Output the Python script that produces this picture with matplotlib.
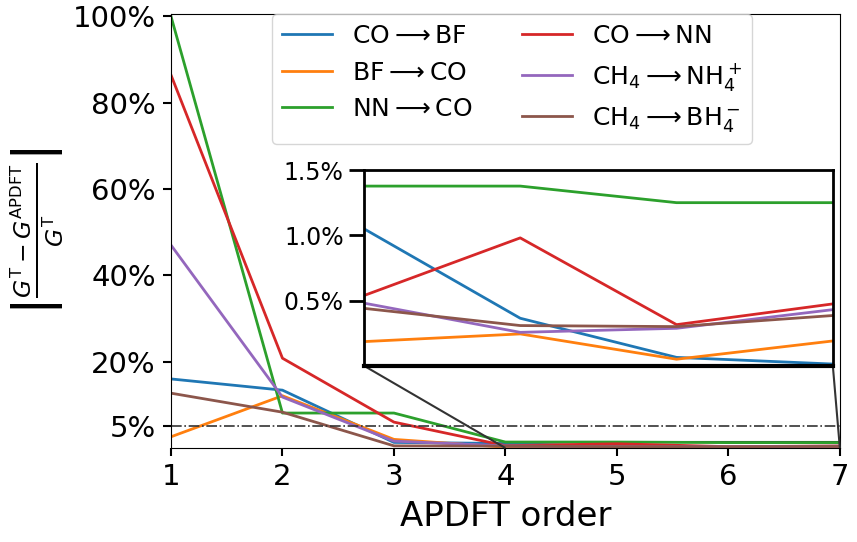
import numpy as np
import matplotlib
matplotlib.use('Agg')
import matplotlib.pyplot as plt
from matplotlib.ticker import PercentFormatter
from mpl_toolkits.axes_grid1.inset_locator import mark_inset

# APDFT order
order = [1, 2, 3, 4, 5, 6, 7]

# relative errors (fraction)
co_bf   = [0.160, 0.134, 0.013, 0.0105, 0.00364, 0.00064, 0.00013]
bf_co   = [0.026, 0.121, 0.020, 0.00185, 0.00244, 0.0005, 0.0019]
nn_co   = [1.000, 0.081, 0.081, 0.01377, 0.01377, 0.0125, 0.0125]
co_nn   = [0.864, 0.208, 0.060, 0.00538, 0.0098, 0.00315, 0.00474]
ch4_nh4 = [0.470, 0.118, 0.016, 0.0048, 0.00256, 0.00287, 0.0043]
ch4_bh4 = [0.127, 0.083, 0.005, 0.0044, 0.00308, 0.0030, 0.00385]

series = [co_bf, bf_co, nn_co, co_nn, ch4_nh4, ch4_bh4]
labels = [r'$\mathrm{CO}\longrightarrow\mathrm{BF}$',
          r'$\mathrm{BF}\longrightarrow\mathrm{CO}$',
          r'$\mathrm{NN}\longrightarrow\mathrm{CO}$',
          r'$\mathrm{CO}\longrightarrow\mathrm{NN}$',
          r'$\mathrm{CH_4}\longrightarrow\mathrm{NH_4^+}$',
          r'$\mathrm{CH_4}\longrightarrow\mathrm{BH_4^-}$']
colors = ['C0', 'C1', 'C2', 'C3', 'C4', 'C5']

main_ticks = [0.05, 0.2, 0.4, 0.6, 0.8, 1.0]
inset_ticks = [0.005, 0.010, 0.015]

fig = plt.figure(figsize=(8.57, 5.42), dpi=100)
ax = fig.add_axes([0.1995, 0.1734, 0.7805, 0.8006])

for y, lab, c in zip(series, labels, colors):
    ax.plot(order, y, color=c, lw=2, label=lab)
ax.axhline(0.05, color='0.2', ls='-.', lw=1.2)

ax.set_xlim(1, 7)
ax.set_ylim(0, 1.005)
ax.set_xticks(order)
ax.set_yticks(main_ticks)
ax.yaxis.set_major_formatter(PercentFormatter(1, decimals=0))
ax.tick_params(labelsize=21, length=6, width=1.5, pad=5)
ax.set_xlabel('APDFT order', fontsize=24.5, labelpad=6)
ax.set_ylabel(r'$\left|\frac{G^\mathrm{T}-G^\mathrm{APDFT}}{G^\mathrm{T}}\right|$',
              fontsize=24, labelpad=5)

ax.legend(loc='upper center', bbox_to_anchor=(0.51, 1.0), borderaxespad=0,
          ncol=2, fontsize=18)

# inset zoom on orders 4-7
axins = ax.inset_axes([0.2885, 0.1896, 0.701, 0.451])
for y, c in zip(series, colors):
    axins.plot(order, y, color=c, lw=2)
axins.set_xlim(4, 7)
axins.set_ylim(0, 0.015)
axins.set_xticks([])
axins.set_yticks(inset_ticks)
axins.yaxis.set_major_formatter(PercentFormatter(1, decimals=1))
axins.tick_params(labelsize=17, length=11, width=2)
for s in axins.spines.values():
    s.set_linewidth(2)
    s.set_color('black')
axins.spines['bottom'].set_linewidth(3)

mark_inset(ax, axins, loc1=3, loc2=4, fc='none', ec='0.2', lw=1.5)

fig.savefig('out.png', dpi=100)
